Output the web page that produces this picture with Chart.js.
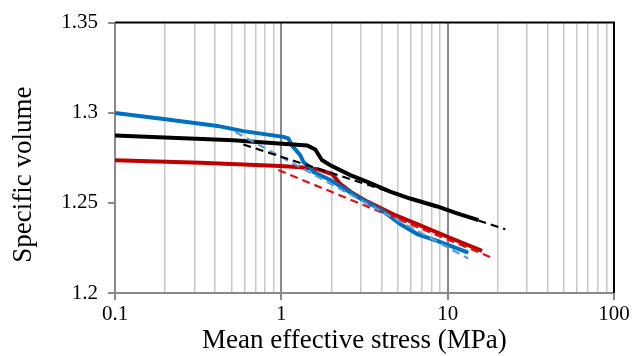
<!DOCTYPE html>
<html>
<head>
<meta charset="utf-8">
<script src="https://cdn.jsdelivr.net/npm/chart.js@4"></script>
<style>
  html, body { margin: 0; padding: 0; background: #fff; }
  #wrap { width: 644px; height: 356px; }
</style>
</head>
<body>
<div id="wrap"><canvas id="volChart" width="644" height="356"></canvas></div>
<script>
// solid test curves (stress in MPa, specific volume)
const blackStress = [0.1, 0.515, 0.652, 1.43, 1.60, 1.71, 1.76, 1.97, 2.60, 3.29, 4.51, 5.95, 8.65, 11.4, 15.3];
const blackVolume = [1.2874, 1.2848, 1.2840, 1.2818, 1.2796, 1.2753, 1.2736, 1.2709, 1.2654, 1.2616, 1.2562, 1.2524, 1.2480, 1.2442, 1.2404];

const blueStress = [0.1, 0.207, 0.413, 0.591, 1.03, 1.10, 1.16, 1.30, 1.36, 1.49, 1.56, 1.97, 2.86, 4.10, 5.19, 6.56, 8.65, 10.4, 13.3];
const blueVolume = [1.2998, 1.2962, 1.2927, 1.2898, 1.2866, 1.2858, 1.2818, 1.2764, 1.2725, 1.2698, 1.2671, 1.2627, 1.2534, 1.2453, 1.2382, 1.2327, 1.2289, 1.2262, 1.2224];

const redStress = [0.1, 0.326, 0.986, 1.30, 1.65, 2.02, 2.26, 2.60, 3.29, 4.71, 6.56, 10.4, 16.1];
const redVolume = [1.2736, 1.2722, 1.2704, 1.2698, 1.2687, 1.2660, 1.2605, 1.2562, 1.2507, 1.2436, 1.2382, 1.2305, 1.2234];

// dashed fit lines
const blackFitStress = [0.591, 22.2];
const blackFitVolume = [1.2824, 1.2354];
const blueFitStress = [0.529, 13.3];
const blueFitVolume = [1.2893, 1.2191];
const redFitStress = [0.959, 19.0];
const redFitVolume = [1.2682, 1.2191];

const xMajor = [0.1, 1, 10, 100];
const yTicks = [1.2, 1.25, 1.3, 1.35];

function pts(xs, ys) {
    return xs.map((x, i) => ({ x: x, y: ys[i] }));
}

// log ticks: majors plus 2..9 in each decade
const xTickValues = [];
xMajor.forEach((m, i) => {
    xTickValues.push(m);
    if (i < xMajor.length - 1) {
        for (let k = 2; k <= 9; k++) xTickValues.push(+(m * k).toPrecision(3));
    }
});
const isMajor = (v) => xMajor.some((m) => Math.abs(m - v) < 1e-9);

const frame = {
    id: "frame",
    afterDatasetsDraw(chart) {
        const { ctx, chartArea: a } = chart;
        ctx.save();
        ctx.strokeStyle = "#000";
        ctx.lineWidth = 2;
        ctx.beginPath();
        ctx.moveTo(a.left, a.top);
        ctx.lineTo(a.right, a.top);
        ctx.lineTo(a.right, a.bottom);
        ctx.stroke();
        ctx.restore();
    },
};

const solid = (label, xs, ys, color) => ({
    label: label,
    data: pts(xs, ys),
    borderColor: color,
    borderWidth: 4,
    pointRadius: 0,
    tension: 0,
    order: 2,
});
const dashed = (label, xs, ys, color) => ({
    label: label,
    data: pts(xs, ys),
    borderColor: color,
    borderWidth: 2.2,
    borderDash: [8, 5],
    pointRadius: 0,
    tension: 0,
    order: 1,
});

const ctx = document.getElementById("volChart").getContext("2d");
const volChart = new Chart(ctx, {
    type: "line",
    data: {
        datasets: [
            solid("Black", blackStress, blackVolume, "#000000"),
            solid("Blue", blueStress, blueVolume, "#0070C0"),
            solid("Red", redStress, redVolume, "#C00000"),
            dashed("Black fit", blackFitStress, blackFitVolume, "#000000"),
            dashed("Blue fit", blueFitStress, blueFitVolume, "#5B9BD5"),
            dashed("Red fit", redFitStress, redFitVolume, "#E01010"),
        ],
    },
    options: {
        responsive: false,
        animation: false,
        layout: { padding: { top: 18, right: 30, left: 0, bottom: 0 } },
        scales: {
            x: {
                type: "logarithmic",
                min: 0.1,
                max: 100,
                afterBuildTicks: (axis) => {
                    axis.ticks = xTickValues.map((v) => ({ value: v }));
                },
                afterFit: (axis) => { axis.height = 63; },
                border: { color: "#898989", width: 2 },
                grid: {
                    color: (c) => (isMajor(c.tick.value) ? "#898989" : "#C8C8C8"),
                    lineWidth: (c) => (isMajor(c.tick.value) ? 2 : 1.5),
                    tickColor: (c) => (isMajor(c.tick.value) ? "#898989" : "rgba(0,0,0,0)"),
                    tickLength: 7,
                },
                ticks: {
                    autoSkip: false,
                    maxRotation: 0,
                    padding: 2,
                    color: "#000",
                    font: { family: "Liberation Serif", size: 21 },
                    callback: (v) => (isMajor(v) ? String(v) : ""),
                },
                title: {
                    display: true,
                    text: "Mean effective stress (MPa)   ",
                    color: "#000",
                    font: { family: "Liberation Serif", size: 27 },
                    padding: { top: 0, bottom: -1 },
                },
            },
            y: {
                min: 1.2,
                max: 1.35,
                afterBuildTicks: (axis) => {
                    axis.ticks = yTicks.map((v) => ({ value: v }));
                },
                afterFit: (axis) => { axis.width = 115; },
                border: { color: "#898989", width: 2 },
                grid: {
                    drawOnChartArea: false,
                    tickColor: "#898989",
                    tickLength: 7,
                    lineWidth: 2,
                },
                ticks: {
                    padding: 10,
                    color: "#000",
                    font: { family: "Liberation Serif", size: 21 },
                    callback: (v) => String(v),
                },
                title: {
                    display: true,
                    text: "Specific volume     ",
                    color: "#000",
                    font: { family: "Liberation Serif", size: 27 },
                    padding: { top: 8, bottom: 0 },
                },
            },
        },
        plugins: {
            legend: { display: false },
            title: { display: false },
            tooltip: { enabled: false },
        },
    },
    plugins: [frame],
});
</script>
</body>
</html>
